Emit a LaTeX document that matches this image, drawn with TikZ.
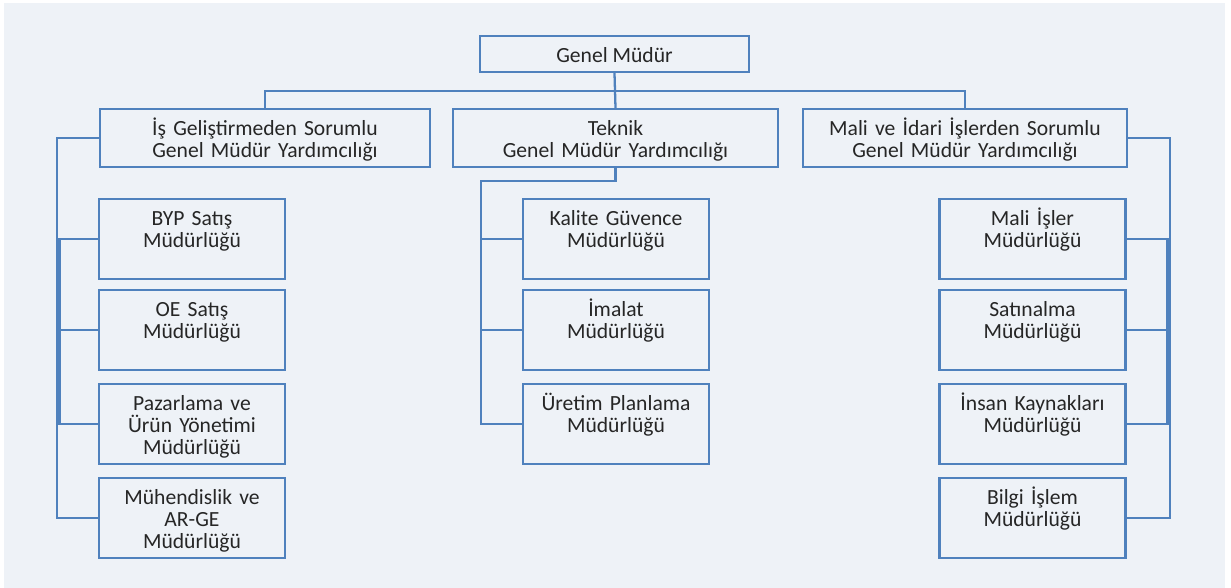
\documentclass[tikz,border=0pt]{standalone}
\usepackage{fontspec}
\setmainfont{Carlito}
\definecolor{hat}{HTML}{4F81BD}
\definecolor{zemin}{HTML}{EEF2F7}
\definecolor{yazi}{HTML}{262626}
\tikzset{
  kutu/.style={draw=hat, line width=1.3pt, inner sep=0pt, align=center,
    text=yazi, font=\fontsize{12.3}{12.5}\selectfont,
    execute at begin node={\rule{0pt}{11.5pt}},
    execute at end node={\rule[-1.8pt]{0pt}{1.8pt}}},
  mdr/.style={kutu, text width=3.72cm, minimum height=1.6cm},
  gmy/.style={kutu, text width=#1, minimum height=1.16cm},
  baglanti/.style={draw=hat, line width=1.3pt}
}

\begin{document}
\begin{tikzpicture}[x=0.02cm, y=-0.02cm]
  \useasboundingbox (0,0) rectangle (1231,588);
  \fill[white] (0,0) rectangle (1231,588);
  \fill[zemin] (4,3) rectangle (1225,588);

  \node[kutu, minimum width=5.38cm, minimum height=0.72cm] (genel) at (614.5,54) {Genel Müdür};
  \node[gmy=6.6cm] (gmy1) at (265,138) {İş Geliştirmeden Sorumlu\\Genel Müdür Yardımcılığı};
  \node[gmy=6.5cm] (gmy2) at (615.5,138) {Teknik\\Genel Müdür Yardımcılığı};
  \node[gmy=6.48cm] (gmy3) at (965,138) {Mali ve İdari İşlerden Sorumlu\\Genel Müdür Yardımcılığı};

  \foreach \i/\y/\txt in {1/239/{BYP Satış\\Müdürlüğü\\~},
      2/330/{OE Satış\\Müdürlüğü\\~},
      3/424/{Pazarlama ve\\Ürün Yönetimi\\Müdürlüğü},
      4/518/{Mühendislik ve\\AR-GE\\Müdürlüğü}}
    \node[mdr] (sol\i) at (192,\y) {\txt};

  \foreach \i/\y/\txt in {1/239/{Kalite Güvence\\Müdürlüğü\\~},
      2/330/{İmalat\\Müdürlüğü\\~},
      3/424/{Üretim Planlama\\Müdürlüğü\\~}}
    \node[mdr] (orta\i) at (616,\y) {\txt};

  \foreach \i/\y/\txt in {1/239/{Mali İşler\\Müdürlüğü\\~},
      2/330/{Satınalma\\Müdürlüğü\\~},
      3/424/{İnsan Kaynakları\\Müdürlüğü\\~},
      4/518/{Bilgi İşlem\\Müdürlüğü\\~}}
    \node[mdr] (sag\i) at (1032.5,\y) {\txt};

  \coordinate (bus) at (615,91);
  \coordinate (solx) at (57,300);
  \coordinate (solic) at (59.5,330);
  \coordinate (ortx) at (481,181);
  \coordinate (sagx) at (1170,300);
  \coordinate (sagic) at (1167.5,330);

  \draw[baglanti] (genel.south) -- (gmy2.north);
  \draw[baglanti] (gmy1.north) |- (bus) -| (gmy3.north);

  \draw[baglanti] (gmy1.west) -| (solx) |- (sol4.west);
  \draw[baglanti] (sol1.west) -| (solic) |- (sol3.west);
  \draw[baglanti] (sol2.west) -- (solic);

  \draw[baglanti] (gmy2.south) |- (ortx) |- (orta3.west);
  \foreach \i in {1,2}
    \draw[baglanti] (orta\i.west) -- (orta\i.west -| ortx);

  \draw[baglanti] (gmy3.east) -| (sagx) |- (sag4.east);
  \draw[baglanti] (sag1.east) -| (sagic) |- (sag3.east);
  \draw[baglanti] (sag2.east) -- (sagic);
\end{tikzpicture}
\end{document}
